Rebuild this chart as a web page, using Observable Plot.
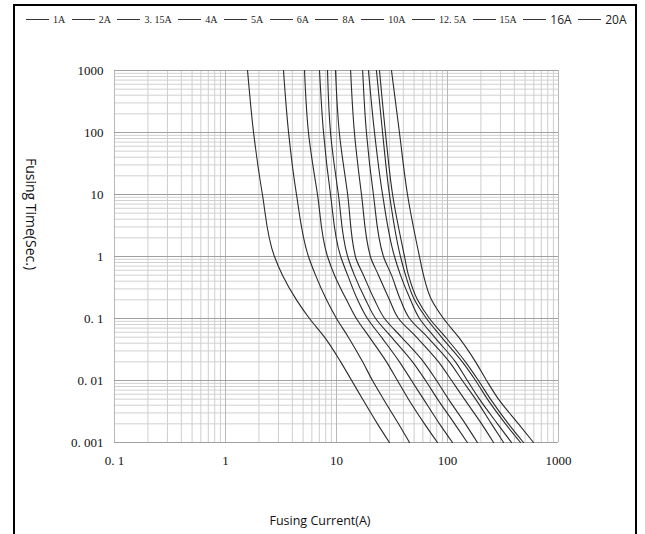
<!DOCTYPE html>
<html><head><meta charset="utf-8">
<script src="https://cdn.jsdelivr.net/npm/d3@7"></script>
<script src="https://cdn.jsdelivr.net/npm/@observablehq/plot@0.6"></script>
<style>
body{margin:0;background:#fff;}
#wrap{position:relative;width:645px;height:534px;overflow:hidden;background:#fff;}
#chart{position:absolute;left:0;top:0;}
#frame{position:absolute;left:13px;top:4px;width:624px;height:560px;border:2px solid #000;border-bottom:none;box-sizing:border-box;pointer-events:none;}
#legend{position:absolute;left:26px;top:12px;height:14px;display:flex;align-items:center;white-space:nowrap;font-family:"Liberation Serif",serif;font-size:10px;color:#222;}
.item{display:flex;align-items:center;margin-right:6.5px;}
.sw{width:23px;height:0;border-top:1px solid #333;margin-right:4px;}
.big{font-family:"Open Sans",sans-serif;font-size:12px;}
#ytitle{position:absolute;left:31px;top:214px;transform:translate(-50%,-50%) rotate(90deg);font-family:"Open Sans",sans-serif;font-size:14px;white-space:nowrap;color:#111;}
#xtitle{position:absolute;left:320px;top:520px;transform:translate(-50%,-50%);font-family:"Open Sans",sans-serif;font-size:12.5px;white-space:nowrap;color:#111;}
</style></head>
<body>
<div id="wrap">
  <div id="chart"></div>
  <div id="legend"></div>
  <div id="ytitle">Fusing Time(Sec.)</div>
  <div id="xtitle">Fusing Current(A)</div>
  <div id="frame"></div>
</div>
<script>
// Fusing time levels (s)
const times = [1000, 100, 10, 1, 0.5, 0.2, 0.1, 0.05, 0.02, 0.01, 0.005, 0.002, 0.001];
// Ratings
const ratings = ["1A", "2A", "3.15A", "4A", "5A", "6A", "8A", "10A", "12.5A", "15A", "16A", "20A"];
const legendLabels = ["1A", "2A", "3. 15A", "4A", "5A", "6A", "8A", "10A", "12. 5A", "15A", "16A", "20A"];
// Fusing current (A) at each time level, per rating
const cur1A   = [1.58, 1.79, 2.15, 2.76, 3.26, 4.36, 5.71, 7.80, 10.9, 13.7, 17.2, 23.4, 30.0];
const cur2A   = [3.33, 3.70, 4.36, 5.59, 6.47, 8.13, 10.0, 12.8, 17.2, 21.1, 26.5, 36.2, 45.5];
const cur315A = [5.15, 5.59, 6.74, 8.30, 9.59, 12.3, 15.1, 19.8, 28.2, 35.4, 44.5, 62.1, 81.3];
const cur4A   = [7.03, 7.64, 8.83, 10.9, 12.6, 15.5, 19.0, 25.4, 36.9, 47.4, 60.8, 84.7, 111];
const cur5A   = [8.30, 8.83, 10.4, 12.6, 14.5, 18.3, 22.5, 31.3, 48.4, 63.4, 81.3, 116, 151];
const cur6A   = [9.79, 10.6, 12.6, 14.8, 17.5, 22.0, 27.1, 38.5, 60.8, 79.6, 102, 145, 186];
const cur8A   = [13.4, 14.5, 16.8, 20.2, 23.9, 30.0, 36.2, 52.6, 83.0, 109, 142, 203, 260];
const cur10A  = [17.2, 18.6, 21.5, 26.5, 31.3, 37.7, 45.5, 66.0, 104, 136, 179, 249, 320];
const cur125A = [19.4, 22.0, 26.0, 33.3, 37.7, 46.4, 55.9, 76.4, 118, 151, 194, 282, 377];
const cur15A  = [22.9, 26.0, 30.0, 37.7, 41.9, 50.4, 64.7, 88.3, 136, 179, 229, 333, 455];
const cur16A  = [24.4, 27.6, 32.0, 41.0, 44.5, 53.7, 68.8, 95.9, 145, 190, 244, 354, 484];
const cur20A  = [31.3, 36.9, 43.6, 55.9, 60.8, 71.8, 92.0, 126, 179, 225, 288, 436, 595];
const series = [cur1A, cur2A, cur315A, cur4A, cur5A, cur6A, cur8A, cur10A, cur125A, cur15A, cur16A, cur20A];

// Ticks
const xTicks = [0.1, 1, 10, 100, 1000];
const xTickLabels = ["0. 1", "1", "10", "100", "1000"];
const yTicks = [0.001, 0.01, 0.1, 1, 10, 100, 1000];
const yTickLabels = ["0. 001", "0. 01", "0. 1", "1", "10", "100", "1000"];
const minorMultiples = [2, 3, 4, 5, 6, 7, 8, 9];

const xMinor = xTicks.slice(0, -1).flatMap(d => minorMultiples.map(m => d * m));
const yMinor = yTicks.slice(0, -1).flatMap(d => minorMultiples.map(m => d * m));
const xLab = new Map(xTicks.map((v, i) => [v, xTickLabels[i]]));
const yLab = new Map(yTicks.map((v, i) => [v, yTickLabels[i]]));

const rows = ratings.flatMap((r, k) => series[k].map((c, j) => ({rating: r, current: c, time: times[j]})));

const plot = Plot.plot({
  width: 645,
  height: 534,
  marginLeft: 114,
  marginRight: 87,
  marginTop: 70,
  marginBottom: 92,
  style: {fontFamily: "Liberation Serif, serif", fontSize: "13px", color: "#111", background: "transparent"},
  x: {type: "log", domain: [0.1, 1000], ticks: xTicks, tickFormat: d => xLab.get(d), tickSize: 0, tickPadding: 13, label: null},
  y: {type: "log", domain: [0.001, 1000], ticks: yTicks, tickFormat: d => yLab.get(d), tickSize: 0, tickPadding: 11, label: null},
  marks: [
    Plot.ruleX(xMinor, {stroke: "#cecece", strokeWidth: 1}),
    Plot.ruleY(yMinor, {stroke: "#d0d0d0", strokeWidth: 1}),
    Plot.ruleX(xTicks, {stroke: "#b8b8b8", strokeWidth: 1}),
    Plot.ruleY(yTicks, {stroke: "#a0a0a0", strokeWidth: 1}),
    Plot.line(rows, {x: "current", y: "time", z: "rating", curve: "monotone-y", stroke: "#2a2a2a", strokeWidth: 1.1})
  ]
});
document.getElementById("chart").appendChild(plot);

const leg = document.getElementById("legend");
legendLabels.forEach((lab, i) => {
  const it = document.createElement("div");
  it.className = "item";
  const sw = document.createElement("span");
  sw.className = "sw";
  const tx = document.createElement("span");
  tx.textContent = lab;
  if (i >= 10) tx.className = "big";
  it.appendChild(sw); it.appendChild(tx);
  leg.appendChild(it);
});
</script>
</body></html>
